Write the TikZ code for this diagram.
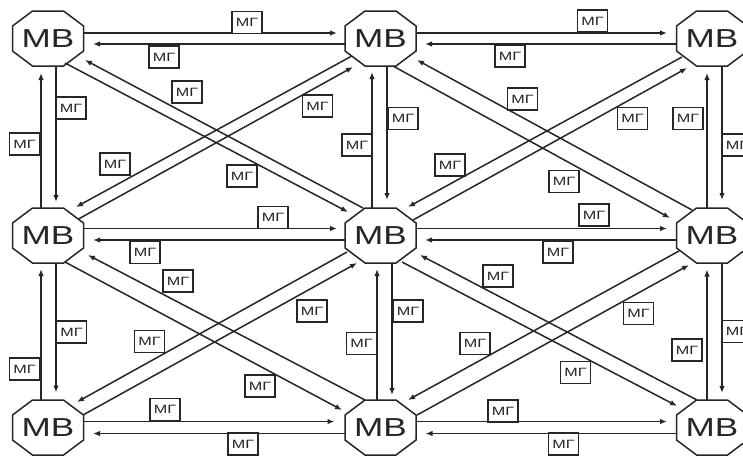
\documentclass[tikz,border=0pt]{standalone}
\usepackage{fontspec}
\setmainfont{Liberation Sans}
\usepackage{graphicx}
\usetikzlibrary{calc,arrows.meta}
\definecolor{ink}{RGB}{38,38,38}
\newcommand\widetext[1]{\scalebox{1.35}[1]{#1}}
\tikzset{
  hub/.style={rectangle, minimum width=71pt, minimum height=55pt, inner sep=0pt,
    font=\fontsize{26}{26}\selectfont, text=ink},
  rim/.style={draw=ink, line width=1.5pt, line join=miter},
  tag/.style={draw=ink, line width=1.3pt, fill=white, minimum width=30pt,
    minimum height=22pt, inner sep=0pt, font=\fontsize{12}{12}\selectfont, text=ink},
  flow/.style={draw=ink, line width=1.5pt, -{Latex[length=7pt,width=5.5pt]}},
}
\begin{document}
\begin{tikzpicture}[x=1pt,y=-1pt]
\fill[white] (0,0) rectangle (743,455);
\useasboundingbox (0,0) rectangle (743,455);

% hubs
\node[hub] (TL) at (48,38.5)    {\widetext{МВ}};
\node[hub] (TM) at (380.5,38.5) {\widetext{МВ}};
\node[hub] (TR) at (712,38.5)   {\widetext{МВ}};
\node[hub] (ML) at (48,235.5)   {\widetext{МВ}};
\node[hub] (MC) at (380.5,235.5){\widetext{МВ}};
\node[hub] (MR) at (712,235.5)  {\widetext{МВ}};
\node[hub] (BL) at (48,427.5)   {\widetext{МВ}};
\node[hub] (BM) at (380.5,427.5){\widetext{МВ}};
\node[hub] (BR) at (712,427.5)  {\widetext{МВ}};

% octagonal outlines of the hubs
\foreach \n in {TL,TM,TR,ML,MC,MR,BL,BM,BR}
  \draw[rim] ($(\n)+(-15.5,-27.5)$) -- ++(31,0) -- ++(20,15) -- ++(0,25)
    -- ++(-20,15) -- ++(-31,0) -- ++(-20,-15) -- ++(0,-25) -- cycle;

% horizontal links
\draw[flow] ($(TL)+(35.5,-5.5)$) -- ($(TM)+(-43.5,-5.5)$);
\draw[flow] ($(TM)+(-35.5,5.5)$) -- ($(TL)+(45,5.5)$);
\draw[flow] ($(TM)+(35.5,-5.5)$) -- ($(TR)+(-45,-5.5)$);
\draw[flow] ($(TR)+(-35.5,5.5)$) -- ($(TM)+(44.5,5.5)$);
\draw[flow] ($(ML)+(35.5,-7)$) -- ($(MC)+(-43.5,-7)$);
\draw[flow] ($(MC)+(-35.5,4.5)$) -- ($(ML)+(45,4.5)$);
\draw[flow] ($(MC)+(35.5,-7)$) -- ($(MR)+(-45,-7)$);
\draw[flow] ($(MR)+(-35.5,4.5)$) -- ($(MC)+(44.5,4.5)$);
\draw[flow] ($(BL)+(35.5,-6)$) -- ($(BM)+(-46,-6)$);
\draw[flow] ($(BM)+(-35.5,6)$) -- ($(BL)+(45,6)$);
\draw[flow] ($(BM)+(35.5,-6)$) -- ($(BR)+(-45,-6)$);
\draw[flow] ($(BR)+(-35.5,6)$) -- ($(BM)+(45,6)$);

% vertical links
\draw[flow] ($(TL)+(8,27.5)$) -- ($(ML)+(8,-33.5)$);
\draw[flow] ($(ML)+(-7,-27.5)$) -- ($(TL)+(-7,34.5)$);
\draw[flow] ($(ML)+(8,27.5)$) -- ($(BL)+(8,-35)$);
\draw[flow] ($(BL)+(-7,-27.5)$) -- ($(ML)+(-7,33.5)$);
\draw[flow] ($(TM)+(6.5,27.5)$) -- ($(MC)+(6.5,-35.5)$);
\draw[flow] ($(MC)+(-8.5,-27.5)$) -- ($(TM)+(-8.5,33.5)$);
\draw[flow] ($(MC)+(11.5,27.5)$) -- ($(BM)+(11.5,-32.5)$);
\draw[flow] ($(BM)+(-3.5,-27.5)$) -- ($(MC)+(-3.5,33.5)$);
\draw[flow] ($(TR)+(10,27.5)$) -- ($(MR)+(10,-35.5)$);
\draw[flow] ($(MR)+(-5,-27.5)$) -- ($(TR)+(-5,34.5)$);
\draw[flow] ($(MR)+(10,27.5)$) -- ($(BR)+(10,-34.5)$);
\draw[flow] ($(BR)+(-5,-27.5)$) -- ($(MR)+(-5,34)$);

% diagonal links
\draw[flow] ($(TL)+(17,24.5)$) -- ($(MC)+(-32.5,-23.5)$);
\draw[flow] ($(MC)+(-17.5,-27.5)$) -- ($(TL)+(37,21.5)$);
\draw[flow] ($(TM)+(-28.7,17.5)$) -- ($(ML)+(28,-28.5)$);
\draw[flow] ($(ML)+(30.5,-16.5)$) -- ($(TM)+(-27.5,28.5)$);
\draw[flow] ($(TM)+(12.5,27.5)$) -- ($(MR)+(-42,-17.5)$);
\draw[flow] ($(MR)+(-20,-25.5)$) -- ($(TM)+(36.5,21.5)$);
\draw[flow] ($(TR)+(-30,18.5)$) -- ($(MC)+(27.5,-28.5)$);
\draw[flow] ($(MC)+(32.5,-15.5)$) -- ($(TR)+(-25,29.5)$);
\draw[flow] ($(ML)+(17,26.5)$) -- ($(BM)+(-38.5,-17.5)$);
\draw[flow] ($(BM)+(-15.5,-27.5)$) -- ($(ML)+(40,19.5)$);
\draw[flow] ($(MC)+(-33.5,16.5)$) -- ($(BL)+(29,-25.5)$);
\draw[flow] ($(BL)+(35,-12.5)$) -- ($(MC)+(-23.5,27.5)$);
\draw[flow] ($(MC)+(21.5,26.5)$) -- ($(BR)+(-35,-21.5)$);
\draw[flow] ($(BR)+(-15,-27.5)$) -- ($(MC)+(39.5,19.5)$);
\draw[flow] ($(MR)+(-33,15.5)$) -- ($(BM)+(27.5,-27.5)$);
\draw[flow] ($(BM)+(36.5,-12.5)$) -- ($(MR)+(-23,29.5)$);

% link labels
\node[tag] (g1)  at (247,22.5)   {\widetext{МГ}};
\node[tag] (g2)  at (164,57)     {\widetext{МГ}};
\node[tag] (g3)  at (592.5,21)   {\widetext{МГ}};
\node[tag] (g4)  at (510,56)     {\widetext{МГ}};
\node[tag] (g5)  at (273,217.5)  {\widetext{МГ}};
\node[tag] (g6)  at (145,252.5)  {\widetext{МГ}};
\node[tag] (g7)  at (594,215)    {\widetext{МГ}};
\node[tag] (g8)  at (558,252)    {\widetext{МГ}};
\node[tag] (g9)  at (165,409.5)  {\widetext{МГ}};
\node[tag] (g10) at (243,444)    {\widetext{МГ}};
\node[tag] (g11) at (503,411)    {\widetext{МГ}};
\node[tag] (g12) at (563.5,444)  {\widetext{МГ}};
\node[tag] (g13) at (71,108)     {\widetext{МГ}};
\node[tag] (g14) at (24.5,144)   {\widetext{МГ}};
\node[tag] (g15) at (71.5,332)   {\widetext{МГ}};
\node[tag] (g16) at (24.5,369)   {\widetext{МГ}};
\node[tag] (g17) at (403,118.5)  {\widetext{МГ}};
\node[tag] (g18) at (357,145)    {\widetext{МГ}};
\node[tag] (g19) at (408,311)    {\widetext{МГ}};
\node[tag] (g20) at (361.5,343.5){\widetext{МГ}};
\node[tag] (g21) at (688,118.5)  {\widetext{МГ}};
\node[tag] (g22) at (737,145)    {\widetext{МГ}};
\node[tag] (g23) at (687,350)    {\widetext{МГ}};
\node[tag] (g24) at (737,331.5)  {\widetext{МГ}};
\node[tag] (g25) at (187,92)     {\widetext{МГ}};
\node[tag] (g26) at (115,164)    {\widetext{МГ}};
\node[tag] (g27) at (317.5,106)  {\widetext{МГ}};
\node[tag] (g28) at (242,176)    {\widetext{МГ}};
\node[tag] (g29) at (450,165)    {\widetext{МГ}};
\node[tag] (g30) at (522.5,99)   {\widetext{МГ}};
\node[tag] (g31) at (632.5,118.5){\widetext{МГ}};
\node[tag] (g32) at (564,181.5)  {\widetext{МГ}};
\node[tag] (g33) at (178,281)    {\widetext{МГ}};
\node[tag] (g34) at (149.5,341.5){\widetext{МГ}};
\node[tag] (g35) at (312,311)    {\widetext{МГ}};
\node[tag] (g36) at (260,386)    {\widetext{МГ}};
\node[tag] (g37) at (475,343.5)  {\widetext{МГ}};
\node[tag] (g38) at (498,276)    {\widetext{МГ}};
\node[tag] (g39) at (638.5,313.5){\widetext{МГ}};
\node[tag] (g40) at (575.5,372.5){\widetext{МГ}};
\end{tikzpicture}
\end{document}
